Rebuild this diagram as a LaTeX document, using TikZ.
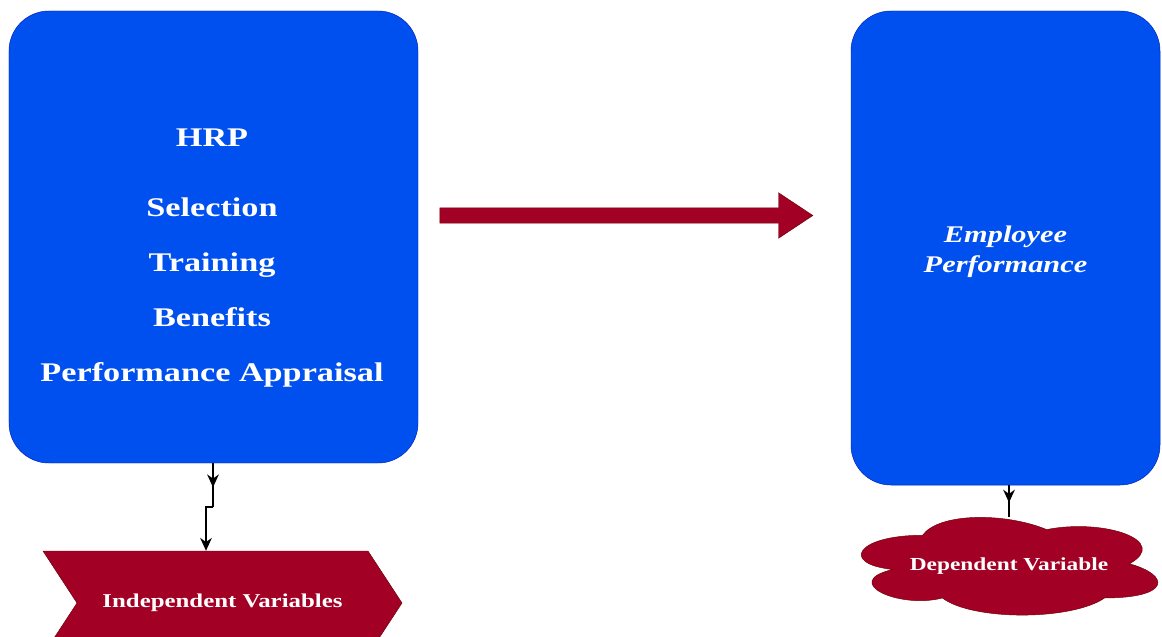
\documentclass[tikz,border=0pt]{standalone}
\usepackage{fontspec}
\setmainfont{Liberation Serif}
\newfontfamily\widefont[FakeStretch=1.27]{Liberation Serif}
\usetikzlibrary{shapes.symbols, shapes.arrows, arrows.meta, decorations.markings}
\definecolor{boxblue}{HTML}{0050EF}
\definecolor{boxedge}{HTML}{001DBC}
\definecolor{varred}{HTML}{A20025}
\definecolor{varedge}{HTML}{6F0000}
\tikzset{
  bluebox/.style={draw=boxedge, fill=boxblue, rounded corners=1.2cm, text=white},
  redvar/.style={draw=varedge, fill=varred, text=white, inner sep=0pt},
  link/.style={black, line width=1.2pt},
  tip/.style={-{Stealth[length=11pt, width=10pt]}},
  midarrow/.style={postaction={decorate}, decoration={markings,
    mark=at position 0.55 with {\arrow{Stealth[length=11pt, width=10pt]}}}}
}
\begin{document}
\begin{tikzpicture}[x=0.03cm, y=-0.03cm]
    \useasboundingbox (0,0) rectangle (1162,637);
    \clip (0,0) rectangle (1162,637);
    \node[bluebox, minimum width=12.27cm, minimum height=13.56cm] (hrp) at (213.5,237) {};
    \node[text=white, align=center, font=\widefont\bfseries\fontsize{23}{46.8}\selectfont]
        (hrplist) at (212,258) {HRP\\[12.7pt] Selection\\ Training\\ Benefits\\ Performance Appraisal};
    \node[bluebox, minimum width=9.27cm, minimum height=14.22cm] (emp) at (1005.5,248) {};
    \node[text=white, align=center, font=\widefont\bfseries\itshape\fontsize{20.4}{25.5}\selectfont]
        (emptext) at (1005.5,252) {Employee\\ Performance};
    \node[single arrow, draw=varedge, fill=varred, minimum height=11.19cm, minimum width=0pt,
        inner sep=0pt, inner ysep=0.225cm, single arrow head extend=0.45cm,
        single arrow tip angle=67] (flow) at (620.5,215.5) {};
    \node[redvar, signal, signal to=east, signal from=west, signal pointer angle=113.6,
        minimum width=10.77cm, minimum height=3.12cm,
        font=\widefont\bfseries\fontsize{16.7}{20}\selectfont]
        (indep) at (222.5,603) {Independent Variables};
    \node[inner sep=0pt, minimum width=8.94cm, minimum height=2.94cm] (dep) at (1009,566) {};
    \begin{scope}[shift={([shift={(-20,-10)}]dep.north west)}, x=9.93cm, y=-3.42cm]
        \filldraw[draw=varedge, fill=varred] (0.25,0.25) .. controls (0.05,0.25) and (0,0.5) .. (0.16,0.55)
        .. controls (0,0.66) and (0.18,0.9) .. (0.31,0.8)
        .. controls (0.4,1) and (0.7,1) .. (0.8,0.8)
        .. controls (1,0.8) and (1,0.6) .. (0.875,0.5)
        .. controls (1,0.3) and (0.8,0.1) .. (0.625,0.2)
        .. controls (0.5,0.05) and (0.3,0.05) .. (0.25,0.25) -- cycle;
    \end{scope}
    \node[text=white, font=\widefont\bfseries\fontsize{15.7}{19}\selectfont]
        (deptext) at (dep.center) {Dependent Variable};
    \coordinate (bend1) at (213,507);
    \coordinate (bend2) at (206,507);
    \draw[link, midarrow] (hrp.south -| bend1) -- (bend1);
    \draw[link, tip] (bend1) -- (bend2) -- (indep.north -| bend2);
    \draw[link, midarrow] (emp.south -| dep.north) -- (dep.north);
\end{tikzpicture}
\end{document}
